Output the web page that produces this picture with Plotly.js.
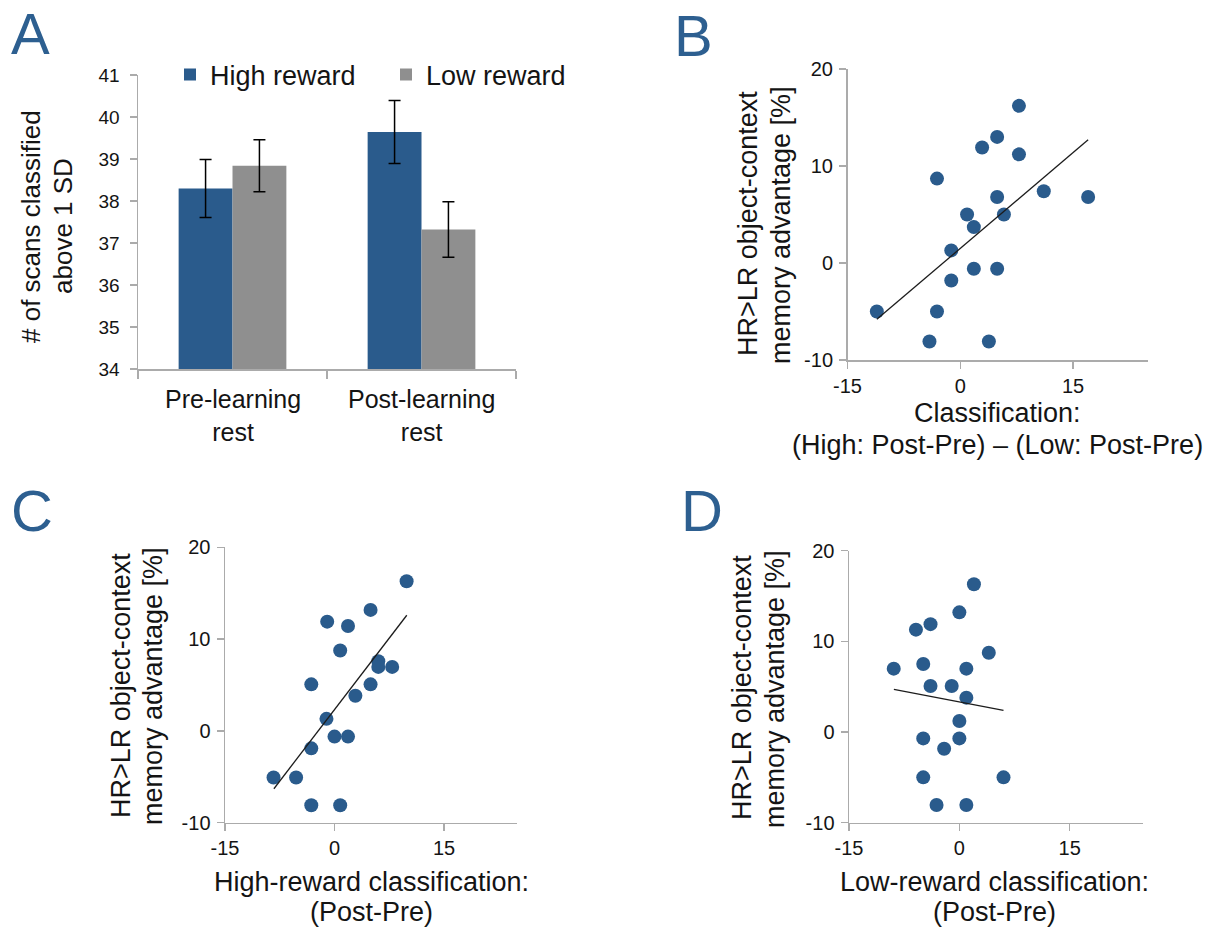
<!DOCTYPE html>
<html>
<head>
<meta charset="utf-8">
<script src="https://cdn.plot.ly/plotly-3.0.1.min.js"></script>
<style>html,body{margin:0;padding:0;background:#fff;}#chart{width:1217px;height:929px;}</style>
</head>
<body>
<div id="chart"></div>
<script>
// ---------- Panel A data ----------
const restCategories = ['Pre-learning rest', 'Post-learning rest'];
const catLabels = ['Pre-learning<br>rest', 'Post-learning<br>rest'];
const highRewardScans = [38.30, 39.64];
const highRewardErr = [0.69, 0.75];
const lowRewardScans = [38.84, 37.32];
const lowRewardErr = [0.62, 0.66];
const seriesNames = ['High reward', 'Low reward'];
const aTickVals = [34, 35, 36, 37, 38, 39, 40, 41];

// ---------- Panel B data ----------
const bClassDiff = [-11.1, -4.1, -3.1, -3.1, -1.2, -1.2, 0.9, 1.8, 1.8, 2.9, 3.8, 4.9, 4.9, 4.9, 5.8, 7.8, 7.8, 11.1, 17.0];
const bMemAdv = [-5.0, -8.1, -5.0, 8.7, 1.3, -1.8, 5.0, 3.7, -0.6, 11.9, -8.1, 13.0, 6.8, -0.6, 5.0, 16.2, 11.2, 7.4, 6.8];
const bFitX = [-11.1, 17.0];
const bFitY = [-5.8, 12.7];

// ---------- Panel C data ----------
const cHighClass = [-8.35, -5.26, -3.18, -3.18, -3.18, -1.1, -1.0, 0.0, 0.78, 0.78, 1.85, 1.85, 2.86, 4.94, 4.94, 6.0, 6.0, 7.9, 9.88];
const cMemAdv = [-5.07, -5.07, -8.1, 5.07, -1.9, 1.31, 11.9, -0.62, -8.1, 8.76, -0.62, 11.42, 3.83, 13.18, 5.07, 7.6, 6.97, 6.97, 16.3];
const cFitX = [-8.3, 9.9];
const cFitY = [-6.3, 12.6];

// ---------- Panel D data ----------
const dLowClass = [-8.92, -5.9, -4.91, -4.91, -4.91, -3.92, -3.92, -3.1, -2.07, -1.04, 0.0, 0.0, 0.0, 0.95, 0.95, 0.95, 1.98, 4.0, 6.0];
const dMemAdv = [6.99, 11.29, 7.5, -0.7, -5.0, 11.9, 5.07, -8.05, -1.84, 5.07, 13.2, 1.21, -0.7, 6.99, 3.79, -8.05, 16.3, 8.75, -5.0];
const dFitX = [-8.9, 6.0];
const dFitY = [4.7, 2.4];

// ---------- shared tick labels / titles ----------
const scatterXTickVals = [-15, 0, 15];
const scatterXTickText = ['-15', '0', '15'];
const scatterYTickVals = [-10, 0, 10, 20];
const scatterYTickText = ['-10', '0', '10', '20'];
const memTitle = ['HR>LR object-context', 'memory advantage [%]'];
const aYTitle = ['# of scans classified', 'above 1 SD'];
const bXTitle = ['Classification:', '(High: Post-Pre) \u2013 (Low: Post-Pre)'];
const cXTitle = ['High-reward classification:', '(Post-Pre)'];
const dXTitle = ['Low-reward classification:', '(Post-Pre)'];
const panelLetters = ['A', 'B', 'C', 'D'];

// ---------- styling ----------
const W = 1217, H = 929;
const FONT = 'Liberation Sans, Arial, Helvetica, sans-serif';
const TXT = '#141414';
const BLUE = '#2a5b8c';
const GRAY = '#8f8f8f';
const AXC = '#ababab';
const LETTER = '#2d5f90';
const px = v => v / W;
const py = v => 1 - v / H;

const traces = [
  {type: 'bar', x: restCategories, y: highRewardScans, name: seriesNames[0], xaxis: 'x', yaxis: 'y',
   marker: {color: BLUE}, legend: 'legend',
   error_y: {type: 'data', array: highRewardErr, color: '#000', thickness: 1.5, width: 6}},
  {type: 'bar', x: restCategories, y: lowRewardScans, name: seriesNames[1], xaxis: 'x', yaxis: 'y',
   marker: {color: GRAY}, legend: 'legend2',
   error_y: {type: 'data', array: lowRewardErr, color: '#000', thickness: 1.5, width: 6}},
  {type: 'scatter', mode: 'markers', x: bClassDiff, y: bMemAdv, xaxis: 'x2', yaxis: 'y2', showlegend: false,
   marker: {color: BLUE, size: 14}},
  {type: 'scatter', mode: 'lines', x: bFitX, y: bFitY, xaxis: 'x2', yaxis: 'y2', showlegend: false,
   line: {color: '#1c1c1c', width: 1.3}},
  {type: 'scatter', mode: 'markers', x: cHighClass, y: cMemAdv, xaxis: 'x3', yaxis: 'y3', showlegend: false,
   marker: {color: BLUE, size: 14}},
  {type: 'scatter', mode: 'lines', x: cFitX, y: cFitY, xaxis: 'x3', yaxis: 'y3', showlegend: false,
   line: {color: '#1c1c1c', width: 1.3}},
  {type: 'scatter', mode: 'markers', x: dLowClass, y: dMemAdv, xaxis: 'x4', yaxis: 'y4', showlegend: false,
   marker: {color: BLUE, size: 14}},
  {type: 'scatter', mode: 'lines', x: dFitX, y: dFitY, xaxis: 'x4', yaxis: 'y4', showlegend: false,
   line: {color: '#1c1c1c', width: 1.3}}
];

function scatterX(domain, anchor) {
  return {domain: domain, anchor: anchor, range: [-15, 25], tickvals: scatterXTickVals, ticktext: scatterXTickText,
    showline: true, linecolor: AXC, linewidth: 1.5, ticks: 'outside', ticklen: 7, tickcolor: AXC, tickwidth: 1.5,
    showgrid: false, zeroline: false, tickfont: {size: 20, color: TXT, family: FONT}, fixedrange: true};
}
function scatterY(domain, anchor) {
  return {domain: domain, anchor: anchor, range: [-10, 20], tickvals: scatterYTickVals, ticktext: scatterYTickText,
    showline: true, linecolor: AXC, linewidth: 1.5, ticks: 'outside', ticklen: 7, tickcolor: AXC, tickwidth: 1.5,
    ticklabelstandoff: 2,
    showgrid: false, zeroline: false, tickfont: {size: 20, color: TXT, family: FONT}, fixedrange: true};
}

const annotations = [];
function addText(text, x, y, size, opts) {
  annotations.push(Object.assign({text: text, xref: 'paper', yref: 'paper', x: px(x), y: py(y),
    xanchor: 'center', yanchor: 'middle', showarrow: false,
    font: {size: size, color: TXT, family: FONT}}, opts || {}));
}
// panel letters
const letterPos = [[9, 34], [672, 36], [9, 510], [679, 510]];
panelLetters.forEach((L, i) => addText(L, letterPos[i][0], letterPos[i][1], 58,
  {xanchor: 'left', font: {size: 58, color: LETTER, family: FONT}}));
// A y title
addText(aYTitle[0], 31, 227, 26, {textangle: -90});
addText(aYTitle[1], 63, 226, 26, {textangle: -90});
// A category labels (one two-line label per category)
restCategories.forEach((c, i) => {
  annotations.push({text: catLabels[i], xref: 'x', yref: 'paper', x: c, y: py(415), xanchor: 'center', yanchor: 'middle',
    showarrow: false, font: {size: 25, color: TXT, family: FONT}});
});
// B titles
addText(memTitle[0], 748, 224, 27, {textangle: -90});
addText(memTitle[1], 781, 225, 27, {textangle: -90});
addText(bXTitle[0], 997, 413, 27);
addText(bXTitle[1], 997, 445, 27);
// C titles
addText(memTitle[0], 121, 686, 27, {textangle: -90});
addText(memTitle[1], 153, 686, 27, {textangle: -90});
addText(cXTitle[0], 371, 882, 27);
addText(cXTitle[1], 371, 912, 27);
// D titles
addText(memTitle[0], 742, 688, 27, {textangle: -90});
addText(memTitle[1], 775, 689, 27, {textangle: -90});
addText(dXTitle[0], 994, 882, 27);
addText(dXTitle[1], 994, 912, 27);

const layout = {
  width: W, height: H, autosize: false,
  margin: {l: 0, r: 0, t: 0, b: 0},
  paper_bgcolor: '#fff', plot_bgcolor: 'rgba(0,0,0,0)',
  font: {family: FONT, color: TXT},
  barmode: 'group', bargap: 0.43, bargroupgap: 0,
  showlegend: true,
  legend: {x: px(170), y: py(75), xanchor: 'left', yanchor: 'middle', orientation: 'h',
    font: {size: 27, color: TXT, family: FONT}, bgcolor: 'rgba(0,0,0,0)', borderwidth: 0},
  legend2: {x: px(386), y: py(75), xanchor: 'left', yanchor: 'middle', orientation: 'h',
    font: {size: 27, color: TXT, family: FONT}, bgcolor: 'rgba(0,0,0,0)', borderwidth: 0},
  xaxis: {domain: [px(138), px(516)], anchor: 'y', type: 'category', showline: true, linecolor: AXC, linewidth: 1.5,
    ticks: 'outside', tickson: 'boundaries', ticklen: 8, tickcolor: AXC, tickwidth: 1.5,
    showticklabels: false, showgrid: false, zeroline: false, fixedrange: true},
  yaxis: {domain: [py(369), py(75)], anchor: 'x', range: [34, 41], tickvals: aTickVals,
    showline: true, linecolor: AXC, linewidth: 1.5, ticks: 'outside', ticklen: 7, tickcolor: AXC, tickwidth: 1.5,
    ticklabelstandoff: 6,
    showgrid: false, zeroline: false, tickfont: {size: 19, color: TXT, family: FONT}, fixedrange: true},
  xaxis2: scatterX([px(847.5), px(1148.3)], 'y2'),
  yaxis2: scatterY([py(360), py(69)], 'x2'),
  xaxis3: scatterX([px(225), px(517)], 'y3'),
  yaxis3: scatterY([py(822.7), py(547.3)], 'x3'),
  xaxis4: scatterX([px(849), px(1143.3)], 'y4'),
  yaxis4: scatterY([py(822.7), py(550.7)], 'x4'),
  annotations: annotations
};

Plotly.newPlot('chart', traces, layout, {displayModeBar: false, staticPlot: true});
</script>
</body>
</html>
